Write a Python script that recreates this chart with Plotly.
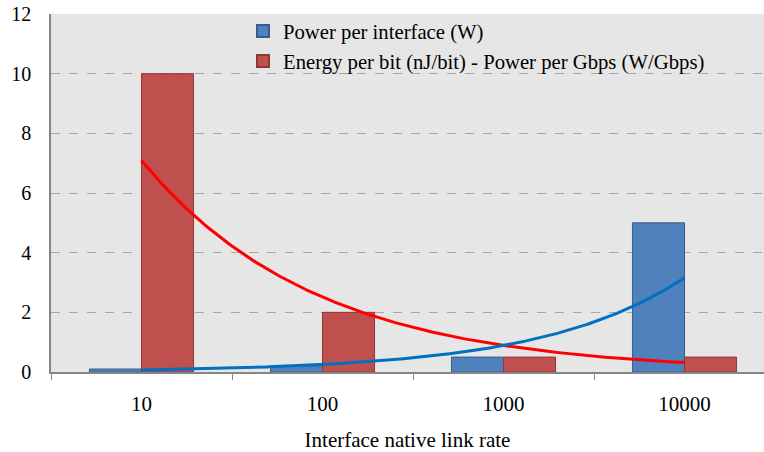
import numpy as np
import plotly.graph_objects as go

categories = ["10", "100", "1000", "10000"]
power_per_interface = [0.1, 0.2, 0.5, 5.0]
energy_per_bit = [10.0, 2.0, 0.5, 0.5]
y_ticks = [0, 2, 4, 6, 8, 10, 12]

name_blue = "Power per interface (W)"
name_red = "Energy per bit (nJ/bit) - Power per Gbps (W/Gbps)"

pos = np.arange(len(categories))


def exp_trend(values):
    # Excel-style exponential trendline fitted on category index
    k = pos + 1
    b, a = np.polyfit(k, np.log(values), 1)
    xs = np.linspace(pos[0], pos[-1], 200)
    return xs, np.exp(a + b * (xs + 1))


FONT = "Times New Roman, Liberation Serif, serif"

fig = go.Figure()
fig.add_trace(go.Bar(
    x=pos, y=power_per_interface, name=name_blue,
    marker=dict(color="#4F81BD", line=dict(color="#385D8A", width=1)),
))
fig.add_trace(go.Bar(
    x=pos, y=energy_per_bit, name=name_red,
    marker=dict(color="#C0504D", line=dict(color="#8C3836", width=1)),
))

xr, yr = exp_trend(energy_per_bit)
fig.add_trace(go.Scatter(x=xr, y=yr, mode="lines", line=dict(color="#FF0000", width=3),
                         showlegend=False, hoverinfo="skip"))
xb, yb = exp_trend(power_per_interface)
fig.add_trace(go.Scatter(x=xb, y=yb, mode="lines", line=dict(color="#0070C0", width=3),
                         showlegend=False, hoverinfo="skip"))

# invisible trace to carry boundary ticks on xaxis2
fig.add_trace(go.Scatter(x=[pos[0]], y=[0], xaxis="x2", mode="markers",
                         marker=dict(opacity=0), showlegend=False, hoverinfo="skip"))

W, H = 764, 452
L, T, B = 51, 14, 80
plot_w = W - L
xrange = [-0.5, -0.5 + plot_w / 181.0]

fig.update_layout(
    width=W, height=H,
    margin=dict(l=L, r=0, t=T, b=B, autoexpand=False),
    paper_bgcolor="white",
    plot_bgcolor="#E6E6E6",
    barmode="group", bargap=0.425, bargroupgap=0,
    font=dict(family=FONT, color="black", size=20),
    legend=dict(
        x=(243 - L) / plot_w, y=1.008, xanchor="left", yanchor="top",
        bgcolor="rgba(0,0,0,0)", font=dict(size=20.7, family=FONT),
        tracegroupgap=0, itemsizing="constant",
    ),
    xaxis=dict(
        range=xrange, tickmode="array", tickvals=list(pos), ticktext=categories,
        ticks="", showgrid=False, zeroline=False, automargin=False,
        showline=True, linecolor="#868686", linewidth=1.5,
        tickfont=dict(size=21, family=FONT),
        ticklabelstandoff=12,
        title=dict(text="Interface native link rate", font=dict(size=21, family=FONT), standoff=17),
    ),
    xaxis2=dict(
        range=xrange, overlaying="x", anchor="y", side="bottom", automargin=False,
        tickmode="array", tickvals=[-0.5, 0.5, 1.5, 2.5, 3.5], showticklabels=False,
        ticks="outside", ticklen=7, tickcolor="#868686", tickwidth=1,
        showgrid=False, zeroline=False, showline=False,
    ),
    yaxis=dict(
        range=[0, 12], tickmode="array", tickvals=y_ticks, automargin=False,
        ticks="", showline=True, linecolor="#868686", linewidth=1.5,
        showgrid=True, gridcolor="#A6A6A6", griddash="dash", gridwidth=1,
        zeroline=False, tickfont=dict(size=20, family=FONT),
        ticklabelstandoff=14, ticklabeloverflow="allow",
    ),
)

fig.write_html(
    "out.html",
    config={"displayModeBar": False},
    post_script="document.body.style.margin='0';document.body.style.overflow='hidden';",
)
